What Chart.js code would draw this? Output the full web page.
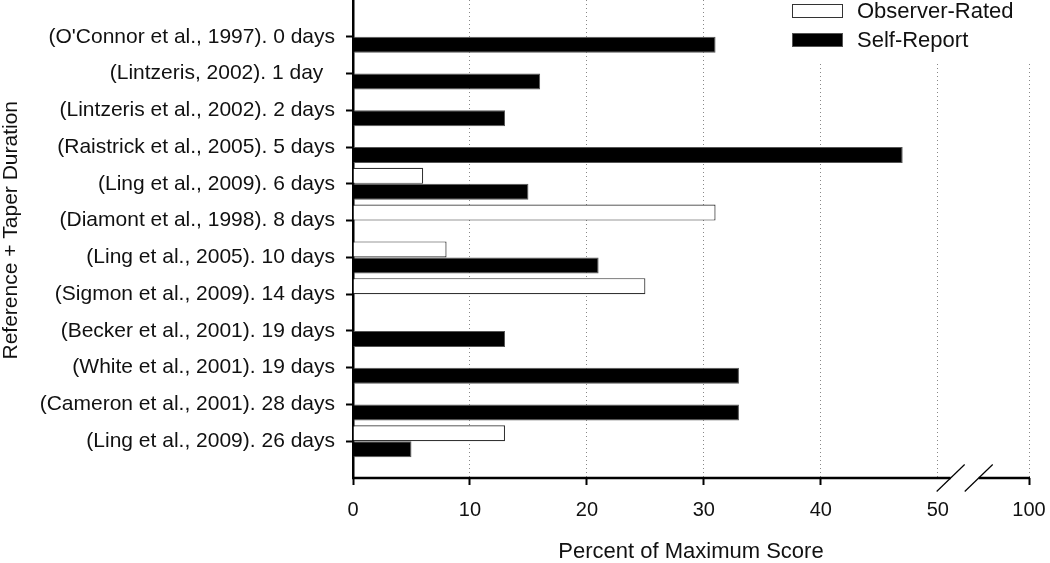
<!DOCTYPE html>
<html><head><meta charset="utf-8">
<script src="https://cdn.jsdelivr.net/npm/chart.js@4.4.1/dist/chart.umd.min.js"></script>
<style>html,body{margin:0;padding:0;background:#fff;overflow:hidden}</style>
</head><body>
<canvas id="c" width="1050" height="563"></canvas>
<script>
// ---- data ----
const categories = [
  "(O'Connor et al., 1997). 0 days",
  "(Lintzeris, 2002). 1 day  ",
  "(Lintzeris et al., 2002). 2 days",
  "(Raistrick et al., 2005). 5 days",
  "(Ling et al., 2009). 6 days",
  "(Diamont et al., 1998). 8 days",
  "(Ling et al., 2005). 10 days",
  "(Sigmon et al., 2009). 14 days",
  "(Becker et al., 2001). 19 days",
  "(White et al., 2001). 19 days",
  "(Cameron et al., 2001). 28 days",
  "(Ling et al., 2009). 26 days"
];
const observerRated = [null, null, null, null, 6, 31, 8, 25, null, null, null, 13];
const selfReport    = [31, 16, 13, 47, 15, null, 21, null, 13, 33, 33, 5];
const xTickValues = [0, 10, 20, 30, 40, 50, 100];
const xTickLabels = ['0', '10', '20', '30', '40', '50', '100'];
const seriesNames = ['Observer-Rated', 'Self-Report'];

// ---- axis break config ----
const AXIS_END = 57.8;          // where "100" sits on the compressed axis
const BREAK_MARKS = [51.1, 53.5];

Chart.defaults.font.family = "'Liberation Sans', Arial, Helvetica, sans-serif";
Chart.defaults.color = '#111';

const toPoints = arr => arr.map((v, i) => ({x: v, y: i})).filter(d => d.x !== null);

const bgPlugin = {
  id: 'legendBg',
  beforeDatasetsDraw(chart) {
    const {ctx, chartArea} = chart;
    ctx.save();
    ctx.fillStyle = '#fff';
    ctx.fillRect(chartArea.right - 315, chartArea.top, 340, 64);
    ctx.restore();
  }
};

const axisPlugin = {
  id: 'brokenAxis',
  afterDatasetsDraw(chart) {
    const {ctx, chartArea, scales: {x}} = chart;
    const y = chartArea.bottom;
    const b1 = x.getPixelForValue(BREAK_MARKS[0]);
    const b2 = x.getPixelForValue(BREAK_MARKS[1]);
    ctx.save();
    ctx.strokeStyle = '#000';
    ctx.lineWidth = 2.5;
    ctx.beginPath();
    ctx.moveTo(chartArea.left - 1, y); ctx.lineTo(b1, y);
    ctx.moveTo(b2, y); ctx.lineTo(chartArea.right + 1, y);
    ctx.stroke();
    ctx.lineWidth = 1.2;
    for (const bx of [b1, b2]) {
      ctx.beginPath();
      ctx.moveTo(bx - 14, y + 13.5);
      ctx.lineTo(bx + 14, y - 13.5);
      ctx.stroke();
    }
    ctx.restore();
  }
};

const legendPlugin = {
  id: 'boxLegend',
  afterDraw(chart) {
    const {ctx, chartArea} = chart;
    const bx = chartArea.right - 237;
    ctx.save();
    chart.data.datasets.forEach((ds, i) => {
      const cy = chartArea.top + 11 + i * 29;
      ctx.fillStyle = ds.backgroundColor;
      ctx.fillRect(bx, cy - 7, 51, 14);
      ctx.strokeStyle = ds.borderColor;
      ctx.lineWidth = 1;
      ctx.strokeRect(bx + 0.5, cy - 6.5, 50, 13);
      ctx.fillStyle = '#111';
      ctx.font = "22px 'Liberation Sans', Arial, sans-serif";
      ctx.textBaseline = 'middle';
      ctx.textAlign = 'left';
      ctx.fillText(ds.label, bx + 65, cy + 1);
    });
    ctx.restore();
  }
};

new Chart(document.getElementById('c'), {
  type: 'bar',
  data: {
    datasets: [
      {label: seriesNames[0], data: toPoints(observerRated), backgroundColor: '#ffffff', borderColor: '#333333', borderWidth: 1.2},
      {label: seriesNames[1], data: toPoints(selfReport), backgroundColor: '#000000', borderColor: '#555555', borderWidth: 1}
    ]
  },
  options: {
    indexAxis: 'y',
    responsive: false,
    animation: false,
    devicePixelRatio: 1,
    layout: {padding: {left: 0, right: 21, top: 0, bottom: 0}},
    datasets: {bar: {categoryPercentage: 0.87, barPercentage: 1.0}},
    plugins: {legend: {display: false}, tooltip: {enabled: false}},
    scales: {
      y: {
        type: 'linear', min: -1, max: 12, reverse: true, offset: false,
        afterBuildTicks: s => { s.ticks = categories.map((c, i) => ({value: i})); },
        afterFit: s => { s.width = 353; s.paddingTop = 0; s.paddingBottom = 0; },
        ticks: {autoSkip: false, padding: 11, font: {size: 21}, color: '#111',
                callback: v => categories[v]},
        grid: {offset: false, drawOnChartArea: false, drawTicks: true, tickLength: 7, tickColor: '#000', tickWidth: 2},
        border: {display: true, color: '#000', width: 2.5},
        title: {display: true, text: '   Reference + Taper Duration', color: '#111',
                font: {size: 21, lineHeight: 1}, padding: {top: 1, bottom: 0}}
      },
      x: {
        type: 'linear', min: 0, max: AXIS_END, offset: false,
        afterBuildTicks: s => { s.ticks = xTickValues.map(v => ({value: v <= 50 ? v : AXIS_END})); },
        afterFit: s => { s.height = 85; s.paddingLeft = 0; s.paddingRight = 0; },
        ticks: {autoSkip: false, maxRotation: 0, padding: 13, font: {size: 20}, color: '#111',
                callback: (v, i) => xTickLabels[i]},
        grid: {
          offset: false,
          color: c => (c.tick && c.tick.value === 0) ? 'rgba(0,0,0,0)' : '#888',
          lineWidth: 1, tickLength: 7, tickWidth: 2,
          tickColor: c => (c.tick && c.tick.value === 50) ? 'rgba(0,0,0,0)' : '#000'
        },
        border: {display: false, dash: [1, 3]},
        title: {display: true, text: 'Percent of Maximum Score', color: '#111',
                font: {size: 22, lineHeight: 1}, padding: {top: 0, bottom: 0}}
      }
    }
  },
  plugins: [bgPlugin, axisPlugin, legendPlugin]
});
</script>
</body></html>
